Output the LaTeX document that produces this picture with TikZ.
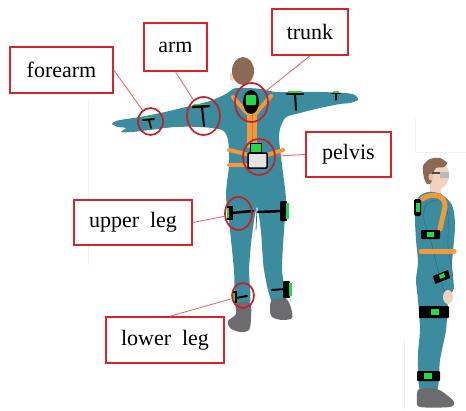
\documentclass[tikz,border=0pt]{standalone}
\usepackage{fontspec}
\setmainfont{Liberation Serif}
\usetikzlibrary{shapes.geometric}

\definecolor{suit}{HTML}{3C8C9F}
\definecolor{suitdark}{HTML}{2D7082}
\definecolor{strap}{HTML}{F29A3A}
\definecolor{strapdark}{HTML}{D97C22}
\definecolor{sensorgreen}{HTML}{22D94A}
\definecolor{shoe}{HTML}{6C6C6E}
\definecolor{hair}{HTML}{8A6A55}
\definecolor{skin}{HTML}{F0D2BE}
\definecolor{labelred}{HTML}{D8232A}
\definecolor{ringred}{HTML}{C81E28}
\definecolor{leaderred}{HTML}{E8696C}
\definecolor{faint}{HTML}{F1F1F1}

\tikzset{
  labelbox/.style={draw=labelred, line width=1.6pt, fill=white, inner sep=0pt,
    font=\fontsize{22}{26}\selectfont, text=black},
  ring/.style={draw=ringred, line width=1.7pt, ellipse, inner sep=0pt},
  leader/.style={draw=leaderred, line width=0.9pt},
  band/.style={draw=black, line cap=round},
  harness/.style={draw=strap, line cap=round},
}

\begin{document}
\begin{tikzpicture}[x=1pt, y=-1pt]
\useasboundingbox (0,0) rectangle (466,410);

% faint scan lines in the background
\draw[faint, line width=1pt] (88,100) -- (88,265);
\draw[faint, line width=1pt] (415,118) -- (415,152) -- (466,152);
\draw[faint, line width=1pt] (404,340) -- (404,410);

% ---------------- back view figure ----------------
% suit
\fill[suit] plot[smooth cycle, tension=0.45] coordinates {
  (236,88) (226,94) (210,101) (190,106) (165,112) (140,117) (126,119)
  (116,121) (112,124) (118,127) (126,128) (121,132) (132,132) (150,130)
  (175,127) (200,127) (222,130) (228,140) (229,165) (226,195) (230,230)
  (234,270) (236,302) (250,302) (249,270) (252,235) (257,207) (261,232)
  (264,270) (272,302) (286,300) (282,270) (284,230) (286,200) (282,165)
  (279,135) (285,118) (300,113) (320,108) (340,104) (350,103) (358,100)
  (355,95) (345,93) (320,92) (295,92) (275,92) (262,89)};
\draw[suitdark, line width=0.8pt] (257,209) -- (256,230);

% head
\fill[skin] (232,77) ellipse [x radius=2.5pt, y radius=4pt];
\fill[hair] (243,71) ellipse [x radius=11pt, y radius=14pt];

% harness straps
\draw[harness, line width=4pt] (233,97) -- (247,113);
\draw[harness, line width=4pt] (271,96) -- (256,113);
\fill[strap] (247,110) rectangle (257,148);
\draw[strapdark, line width=0.8pt] (252,112) -- (252,146);
\draw[harness, line width=4pt] (229,150) .. controls (238,152) .. (249,155);
\draw[harness, line width=4pt] (229,165) -- (248,165);
\draw[harness, line width=4pt] (267,155) -- (283,150);

% trunk sensor
\fill[black] (251,102) ellipse [x radius=8pt, y radius=12pt];
\fill[sensorgreen, rounded corners=1pt] (246,95) rectangle (256,105);

% pelvis sensor
\filldraw[fill=sensorgreen, draw=black, line width=1pt] (250,143) rectangle (261,152);
\filldraw[fill=gray!22, draw=black, line width=1.5pt, rounded corners=1pt] (248,153) rectangle (267,168);

% arm sensors
\fill[sensorgreen] (194,103.5) rectangle (208,106);
\draw[band, line width=2.5pt] (193,107) -- (209,106);
\draw[band, line width=2pt] (202,107) -- (204,126);
\fill[sensorgreen] (144,116.5) rectangle (152,118.5);
\draw[band, line width=2pt] (143,120) -- (154,119);
\draw[band, line width=1.6pt] (149,120) -- (151,128);
\fill[sensorgreen] (288,90.5) rectangle (302,93);
\draw[band, line width=2.5pt] (287,94) -- (303,94);
\draw[band, line width=2pt] (295,94) -- (296,110);
\fill[sensorgreen] (333,90.5) rectangle (339,92.5);
\draw[band, line width=1.6pt] (332,93.5) -- (340,93.5);
\draw[band, line width=1.3pt] (336,94) -- (336,100);

% leg sensors
\draw[band, line width=2.5pt] (231,213) -- (253,211);
\fill[black] (227,206) rectangle (233,220);
\fill[sensorgreen] (226.5,208) rectangle (229,218);
\draw[band, line width=2.5pt] (258,212) -- (282,211);
\fill[black, rounded corners=1pt] (280,201) rectangle (287,221);
\fill[sensorgreen] (286,203) rectangle (288.5,219);
\draw[band, line width=2pt] (236,298) -- (247,296);
\fill[black] (233,291) rectangle (237,303);
\fill[sensorgreen] (232.5,293) rectangle (235,301);
\draw[band, line width=2pt] (272,290) -- (285,289);
\fill[black, rounded corners=1pt] (283,281) rectangle (290,298);
\fill[sensorgreen] (289,283) rectangle (291.5,296);

% shoes
\fill[shoe] plot[smooth cycle, tension=0.5] coordinates {
  (236,303) (250,303) (251,318) (249,330) (240,332) (230,328) (228,321) (236,314)};
\fill[shoe] plot[smooth cycle, tension=0.5] coordinates {
  (272,300) (286,299) (291,308) (292,318) (282,320) (272,317) (270,310)};

% ---------------- side view figure ----------------
\fill[skin] (430,184) rectangle (441,197);
\fill[suit] plot[smooth cycle, tension=0.45] coordinates {
  (428,192) (418,198) (415,215) (416,240) (418,262) (416,280) (418,300)
  (420,330) (418,355) (420,390) (437,390) (440,360) (446,330) (448,300)
  (450,280) (452,262) (455,225) (452,205) (441,194)};
% arm
\filldraw[fill=suit, draw=suitdark, line width=0.6pt] plot[smooth cycle, tension=0.45] coordinates {
  (426,205) (440,200) (448,215) (448,245) (452,270) (453,290) (445,292)
  (438,270) (432,245) (424,220)};
\fill[skin] (448,297) ellipse [x radius=5pt, y radius=7pt];
% head
\fill[skin] (438,175) ellipse [x radius=11pt, y radius=14pt];
\fill[hair] plot[smooth cycle, tension=0.5] coordinates {
  (424,178) (423,166) (430,159) (440,158) (447,163) (444,167) (436,168)
  (433,174) (431,183) (427,184)};
\fill[skin!80!brown] (431,177) ellipse [x radius=2.5pt, y radius=3.5pt];
\draw[black!70, line width=1.3pt] (432,173) -- (448,173);
\fill[gray!55] (440,172) rectangle (449,178);

% orange straps
\draw[harness, line width=5pt] (422,199) .. controls (432,192) and (446,195) .. (445,207) -- (440,229);
\draw[harness, line width=5pt] (421,251) -- (454,251);

% sensors
\fill[black, rounded corners=1.5pt] (414,199) rectangle (421,216);
\fill[sensorgreen] (416,203) rectangle (419.5,212);
\fill[black, rounded corners=1pt] (421,230) rectangle (440,239);
\fill[sensorgreen] (427,232) rectangle (434,237);
\fill[black] (433,276) -- (448,270) -- (450,278) -- (435,284) -- cycle;
\fill[sensorgreen] (439,275) -- (444,273) -- (445,277) -- (440,279) -- cycle;
\fill[black, rounded corners=1pt] (419,306) rectangle (449,318);
\fill[sensorgreen] (431,309) rectangle (439,315);
\fill[black, rounded corners=1pt] (417,371) rectangle (440,381);
\fill[sensorgreen] (424,373) rectangle (432,379);
\fill[shoe] plot[smooth cycle, tension=0.5] coordinates {
  (419,389) (437,389) (448,396) (454,402) (450,407) (420,407) (417,400)};

% ---------------- labels ----------------
\node[labelbox, minimum width=103pt, minimum height=46pt] (fa) at (61.5,70) {forearm};
\node[labelbox, minimum width=63pt, minimum height=48pt] (ar) at (175.5,47) {arm};
\node[labelbox, minimum width=76pt, minimum height=46pt] (tr) at (310,32) {trunk};
\node[labelbox, minimum width=85pt, minimum height=45pt] (pv) at (348.5,154.5) {pelvis};
\node[labelbox, minimum width=118pt, minimum height=45pt] (ul) at (133,222.5) {upper\hspace{0.5em}leg};
\node[labelbox, minimum width=118pt, minimum height=46pt] (ll) at (165,340) {lower\hspace{0.5em}leg};

% sensor rings
\node[ring, minimum width=25pt, minimum height=27pt] (cfa) at (150.5,121.5) {};
\node[ring, minimum width=33pt, minimum height=38pt] (car) at (203.5,116) {};
\node[ring, minimum width=33pt, minimum height=39pt] (ctr) at (251.5,102.5) {};
\node[ring, minimum width=32pt, minimum height=36pt] (cpv) at (259,157) {};
\node[ring, minimum width=27pt, minimum height=33pt] (cul) at (238.5,213.5) {};
\node[ring, minimum width=22pt, minimum height=25pt] (cll) at (243,295.5) {};

% leaders
\draw[leader] (fa.east) -- (cfa);
\draw[leader] (ar.south) -- (car);
\draw[leader] (tr.south) -- (ctr);
\draw[leader] (pv.west) -- (cpv);
\draw[leader] (ul.east) -- (cul);
\draw[leader] ([xshift=5pt]ll.north) -- (cll);

\end{tikzpicture}
\end{document}
